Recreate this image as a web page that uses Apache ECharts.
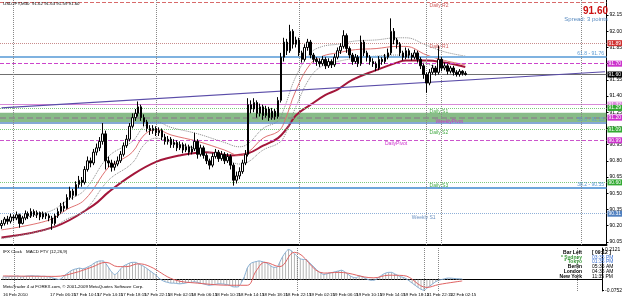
<!DOCTYPE html>
<html>
<head>
<meta charset="utf-8">
<script src="https://cdn.jsdelivr.net/npm/echarts@6.0.0/dist/echarts.min.js"></script>
<style>
html, body { margin: 0; padding: 0; background: #fff; }
#chart { width: 625px; height: 299px; }
</style>
</head>
<body>
<div id="chart"></div>
<script>
// USDJPY M30 bars, rows are [open, close, low, high]
var candles = [
[90.20,90.22,90.17,90.25],[90.22,90.26,90.20,90.28],[90.26,90.24,90.21,90.29],[90.24,90.28,90.22,90.31],
[90.28,90.27,90.24,90.30],[90.27,90.30,90.25,90.33],[90.30,90.22,90.18,90.31],[90.22,90.27,90.21,90.29],
[90.27,90.31,90.25,90.34],[90.31,90.29,90.26,90.33],[90.29,90.33,90.27,90.36],[90.33,90.30,90.28,90.35],
[90.30,90.32,90.27,90.34],[90.32,90.28,90.25,90.33],[90.28,90.31,90.26,90.33],[90.31,90.29,90.26,90.32],
[90.29,90.27,90.24,90.31],[90.27,90.22,90.16,90.29],[90.22,90.29,90.20,90.31],[90.29,90.33,90.27,90.36],
[90.33,90.38,90.31,90.41],[90.38,90.36,90.33,90.42],[90.36,90.46,90.35,90.49],[90.46,90.52,90.44,90.56],
[90.52,90.48,90.44,90.54],[90.48,90.58,90.47,90.61],[90.58,90.62,90.55,90.66],[90.62,90.60,90.56,90.65],
[90.60,90.72,90.58,90.75],[90.72,90.80,90.70,90.84],[90.80,90.78,90.74,90.83],[90.78,90.88,90.76,90.91],
[90.88,90.92,90.85,90.96],[90.92,90.98,90.89,91.02],[90.98,91.05,90.95,91.15],[91.05,90.80,90.72,91.08],
[90.80,90.78,90.74,90.84],[90.78,90.74,90.70,90.81],[90.74,90.77,90.71,90.80],[90.77,90.80,90.75,90.84],
[90.80,90.86,90.78,90.89],[90.86,90.94,90.84,90.97],[90.94,91.00,90.92,91.04],[91.00,91.12,90.98,91.15],
[91.12,91.20,91.10,91.24],[91.20,91.24,91.17,91.28],[91.24,91.30,91.21,91.35],[91.30,91.20,91.17,91.32],
[91.20,91.16,91.12,91.23],[91.16,91.10,91.07,91.18],[91.10,91.08,91.04,91.13],[91.08,91.10,91.05,91.13],
[91.10,91.06,91.03,91.12],[91.06,91.08,91.03,91.11],[91.08,91.02,90.99,91.10],[91.02,90.98,90.95,91.05],
[90.98,91.00,90.95,91.03],[91.00,90.95,90.92,91.02],[90.95,90.97,90.92,91.00],[90.97,90.92,90.89,90.99],
[90.92,90.95,90.90,90.98],[90.95,90.90,90.87,90.97],[90.90,90.93,90.88,90.96],[90.93,90.88,90.85,90.95],
[90.88,90.91,90.86,90.94],[90.91,90.98,90.89,91.06],[90.98,90.86,90.82,91.00],[90.86,90.92,90.84,90.95],
[90.92,90.85,90.82,90.94],[90.85,90.80,90.77,90.87],[90.80,90.76,90.72,90.82],[90.76,90.84,90.74,90.87],
[90.84,90.88,90.82,90.91],[90.88,90.82,90.79,90.90],[90.82,90.86,90.80,90.89],[90.86,90.80,90.77,90.88],
[90.80,90.84,90.78,90.87],[90.84,90.76,90.72,90.86],[90.76,90.62,90.57,90.78],[90.62,90.66,90.59,90.70],
[90.66,90.70,90.63,90.74],[90.70,90.78,90.68,90.81],[90.78,90.86,90.76,90.90],[90.86,91.32,90.84,91.38],
[91.32,91.28,91.24,91.36],[91.28,91.34,91.25,91.38],[91.34,91.24,91.20,91.36],[91.24,91.30,91.21,91.33],
[91.30,91.22,91.18,91.32],[91.22,91.28,91.20,91.31],[91.28,91.20,91.17,91.30],[91.20,91.26,91.18,91.29],
[91.26,91.21,91.18,91.28],[91.21,91.36,91.19,91.39],[91.36,91.76,91.34,91.80],[91.76,91.90,91.72,91.94],
[91.90,91.82,91.78,91.93],[91.82,92.00,91.80,92.06],[92.00,91.88,91.84,92.02],[91.88,91.92,91.85,91.95],
[91.92,91.80,91.77,91.94],[91.80,91.74,91.71,91.82],[91.74,91.85,91.72,91.88],[91.85,91.90,91.82,91.93],
[91.90,91.78,91.75,91.92],[91.78,91.74,91.71,91.80],[91.74,91.72,91.68,91.76],[91.72,91.70,91.67,91.75],
[91.70,91.74,91.68,91.77],[91.74,91.68,91.65,91.76],[91.68,91.72,91.66,91.75],[91.72,91.69,91.66,91.74],
[91.69,91.76,91.67,91.79],[91.76,91.82,91.74,91.85],[91.82,91.86,91.79,91.89],[91.86,91.96,91.84,92.01],
[91.96,91.84,91.80,91.98],[91.84,91.78,91.75,91.86],[91.78,91.72,91.69,91.80],[91.72,91.76,91.70,91.79],
[91.76,91.70,91.67,91.78],[91.70,91.90,91.68,91.96],[91.90,91.80,91.77,91.92],[91.80,91.76,91.72,91.82],
[91.76,91.72,91.69,91.78],[91.72,91.70,91.67,91.75],[91.70,91.66,91.63,91.72],[91.66,91.74,91.64,91.77],
[91.74,91.72,91.69,91.76],[91.72,91.76,91.70,91.79],[91.76,91.80,91.74,91.84],[91.80,92.00,91.78,92.12],
[92.00,91.92,91.88,92.03],[91.92,91.88,91.84,91.94],[91.88,91.80,91.77,91.90],[91.80,91.76,91.73,91.82],
[91.76,91.82,91.74,91.85],[91.82,91.78,91.75,91.84],[91.78,91.76,91.73,91.80],[91.76,91.80,91.74,91.83],
[91.80,91.74,91.71,91.82],[91.74,91.68,91.65,91.76],[91.68,91.60,91.56,91.70],[91.60,91.52,91.43,91.62],
[91.52,91.62,91.50,91.65],[91.62,91.66,91.60,91.69],[91.66,91.62,91.59,91.68],[91.62,91.74,91.60,91.87],
[91.74,91.66,91.63,91.76],[91.66,91.68,91.64,91.71],[91.68,91.63,91.60,91.70],[91.63,91.66,91.61,91.68],
[91.66,91.62,91.59,91.68],[91.62,91.60,91.58,91.64],[91.60,91.63,91.58,91.65],[91.63,91.61,91.59,91.64],
[91.61,91.60,91.59,91.63]
];

// moving averages as [bar, price]
var slowMa = [[0,90.09],[18,90.19],[31,90.39],[36,90.51],[44,90.67],[52,90.79],[60,90.85],[69,90.88],[77,90.85],
  [83,90.87],[88,90.94],[93,91.01],[96,91.10],[99,91.22],[104,91.32],[109,91.41],[113,91.46],[118,91.55],
  [126,91.64],[133,91.71],[136,91.73],[143,91.73],[149,91.71],[156,91.67]];
var fastMa = [[0,90.16],[16,90.25],[22,90.35],[28,90.44],[36,90.74],[39,90.79],[44,90.88],[48,91.04],[52,91.09],
  [57,91.04],[66,90.98],[75,90.90],[80,90.85],[83,90.88],[88,91.01],[93,91.07],[95,91.15],[99,91.45],[104,91.70],
  [108,91.77],[113,91.80],[119,91.83],[126,91.84],[133,91.86],[136,91.86],[143,91.78],[149,91.73],[156,91.69]];
var envUp = [[0,90.24],[16,90.33],[22,90.43],[28,90.53],[36,90.84],[44,90.98],[48,91.12],[52,91.16],[57,91.11],
  [66,91.05],[75,90.97],[80,90.93],[83,90.96],[88,91.10],[93,91.17],[95,91.28],[99,91.58],[104,91.80],[108,91.86],
  [113,91.88],[119,91.91],[126,91.92],[133,91.94],[136,91.94],[143,91.87],[149,91.81],[156,91.77]];
var envDn = [[0,90.08],[16,90.17],[22,90.26],[28,90.34],[36,90.62],[44,90.78],[48,90.95],[52,91.01],[57,90.97],
  [66,90.91],[75,90.83],[80,90.77],[83,90.79],[88,90.90],[93,90.96],[95,91.02],[99,91.30],[104,91.58],[108,91.68],
  [113,91.72],[119,91.75],[126,91.77],[133,91.78],[136,91.78],[143,91.70],[149,91.65],[156,91.61]];

// MACD FTV (12,26,9)
var macdMain = [0.02,0.018,0.02,0.022,0.02,0.025,0.018,0.02,0.024,0.025,0.026,0.024,0.025,0.022,0.023,0.02,0.018,0.01,0.005,
  0.0,0.01, 0.03,0.045,0.06,0.07, 0.075,0.08,0.075,0.08,0.09, 0.10,0.115,0.125,0.13,0.13, 0.11,0.08,0.05,0.035,
  0.05,0.075,0.095, 0.105,0.115,0.12,0.12,0.11, 0.10,0.09,0.075,0.06,0.045,0.03,0.01,
  -0.005,-0.015,-0.02,-0.025,-0.025,-0.028,-0.03,-0.028,-0.025,-0.02,-0.02,-0.015,-0.02,
  -0.025,-0.03,-0.035,-0.04,-0.038,-0.035,-0.03,-0.03,-0.032,-0.035,-0.04,-0.05,-0.052,-0.05,
  -0.02,0.02,0.08,0.11, 0.12,0.125,0.13,0.125,0.12,0.11, 0.095,0.085,0.085,0.12, 0.16,0.19,0.21,
  0.2,0.18,0.16,0.145,0.14,0.14, 0.12,0.1,0.08,0.06,0.045,0.035, 0.04,0.045,0.05,0.055,0.06,0.065,0.055,0.04,
  0.025,0.015,0.012,0.025,0.02,0.01, 0.0,-0.005,-0.005,0.005,0.02, 0.035,0.045,0.05,0.05,0.04,0.03,
  0.02,0.015,0.005,-0.01,-0.025,-0.04,-0.055,-0.068,-0.075, -0.06,-0.045,-0.03,-0.015,-0.005,
  0.0,0.005,0.01,0.01,0.008,0.006,0.005,0.004];
var macdSignal = [[0,0.025],[18,0.022],[24,0.045],[30,0.085],[35,0.12],[39,0.09],[42,0.09],[46,0.11],[50,0.09],
  [58,0.0],[66,-0.025],[78,-0.04],[83,-0.04],[86,0.06],[89,0.12],[94,0.09],[99,0.19],[109,0.045],[114,0.05],
  [126,0.012],[131,0.03],[136,0.028],[144,-0.055],[148,-0.035],[156,-0.01]];

var timeLabels = ['16 Feb 2010','17 Feb 02:15','17 Feb 06:15','17 Feb 10:15','17 Feb 14:15','17 Feb 18:15',
  '17 Feb 22:15','18 Feb 02:15','18 Feb 06:15','18 Feb 10:15','18 Feb 14:15','18 Feb 18:15','18 Feb 22:15',
  '19 Feb 02:15','19 Feb 06:15','19 Feb 10:15','19 Feb 14:15','19 Feb 18:15','21 Feb 22:15','22 Feb 02:15'];
var priceTicks = [90.05,90.20,90.35,90.50,90.65,90.80,90.95,91.10,91.25,91.40,91.55,91.70,91.85,92.00,92.15];
var macdTicks = [0.2121,-0.0752];

// pivot / fib / trade levels
var levelPrices = [92.27, 91.89, 91.76, 91.70, 91.60, 91.32, 91.29, 91.20, 91.15, 91.09, 90.99, 90.60, 90.55, 90.31];
var levelTexts = ['Daily R2','Daily R1','61.8 - 91.76','','','','Daily S1','WeeklyPivot','50.0 - 91.15','Daily S2',
  'DailyPivot','Daily S3','38.2 - 90.55','Weekly S1'];
var trendLine = [[0, 91.29], [203, 91.625]];
var daySeparators = [3.5, 51.5, 99.5, 143, 147.5, 194.5];
var bandRange = [91.16, 91.245];

var clockNames = ['Bar Left', '* Sydney', '* Tokyo', 'Berlin', 'London', 'New York'];
var clockTimes = ['[ 09:12 ]', '03:35 PM', '01:35 PM', '05:35 AM', '04:35 AM', '11:35 PM'];

// styles for each level, same order as levelPrices
var levelStyles = [
  {c: '#d86a6a', t: 'dashed', w: 1, tag: null, lx: 144, pos: 'below'},
  {c: '#c88c8c', t: 'dotted', w: 1, tag: '#d03030', lx: 144, pos: 'below'},
  {c: '#7fb2e0', t: 'solid', w: 2, tag: null, lx: 203, pos: 'fib'},
  {c: '#cc44cc', t: 'dashed', w: 1, tag: '#cc33cc', lx: 0, pos: ''},
  {c: '#707070', t: 'solid', w: 1, tag: '#000000', lx: 0, pos: ''},
  {c: '#d88ad8', t: 'solid', w: 1, tag: '#dd88dd', lx: 0, pos: ''},
  {c: '#7cc87c', t: 'dotted', w: 1, tag: '#33aa33', lx: 144, pos: 'below'},
  {c: '#8a8a8a', t: 'dashed', w: 1.5, tag: '#cc33cc', lx: 146, pos: 'below'},
  {c: '#5b8cc8', t: 'solid', w: 1.5, tag: null, lx: 203, pos: 'fib'},
  {c: '#7cc87c', t: 'dotted', w: 1, tag: '#33aa33', lx: 144, pos: 'below'},
  {c: '#cc55cc', t: 'dashed', w: 1, tag: '#cc33cc', lx: 129, pos: 'below'},
  {c: '#7cc87c', t: 'dotted', w: 1, tag: '#33aa33', lx: 144, pos: 'below'},
  {c: '#6fa6dc', t: 'solid', w: 2, tag: null, lx: 203, pos: 'fib'},
  {c: '#8fb0d8', t: 'dotted', w: 1, tag: '#5080c0', lx: 138, pos: 'below'}
];
var textColors = ['#d06060','#d06060','#5b9bd5','','','','#44aa44','#cc33cc','#5b9bd5','#44aa44','#cc33cc','#44aa44','#5b9bd5','#6a90c0'];

var BARS = 204;
var cats = [];
for (var i = 0; i < BARS; i++) cats.push(String(i));

var FONT = 'Liberation Sans';

var markLines = [];
levelPrices.forEach(function (p, k) {
    var s = levelStyles[k];
    markLines.push({
        yAxis: p,
        lineStyle: {color: s.c, type: s.t, width: s.w},
        label: s.tag ? {
            show: true, position: 'end', distance: 1, formatter: p.toFixed(2),
            backgroundColor: s.tag, color: '#fff', fontSize: 5, fontFamily: FONT, padding: [1, 1, 0, 1]
        } : {show: false}
    });
});
daySeparators.forEach(function (d) {
    markLines.push({xAxis: d, lineStyle: {color: '#888', type: 'dotted', width: 1}, label: {show: false}});
});
markLines.push([
    {coord: trendLine[0], lineStyle: {color: '#5a4ca8', type: 'solid', width: 1.2}, label: {show: false}},
    {coord: trendLine[1]}
]);

var chart = echarts.init(document.getElementById('chart'));
var option = {
    animation: false,
    backgroundColor: '#fff',
    grid: [
        {left: 0, top: 0, width: 611, height: 245},
        {left: 0, top: 248, width: 611, height: 43}
    ],
    xAxis: [
        {
            type: 'category', gridIndex: 0, data: cats, boundaryGap: true,
            axisLine: {show: true, lineStyle: {color: '#000', width: 2}},
            axisTick: {show: false}, axisLabel: {show: false}, splitLine: {show: false}
        },
        {
            type: 'category', gridIndex: 1, data: cats, boundaryGap: true,
            axisLine: {show: true, lineStyle: {color: '#000', width: 1}},
            axisTick: {show: false},
            axisLabel: {
                show: true, interval: 7, showMinLabel: true, hideOverlap: false,
                fontSize: 4.4, fontFamily: FONT, color: '#000', margin: 2, align: 'left',
                formatter: function (v, idx) { return timeLabels[idx / 8] || ''; }
            },
            splitLine: {show: false}
        }
    ],
    yAxis: [
        {
            type: 'value', gridIndex: 0, position: 'right', min: 90.02, max: 92.29, scale: true,
            axisLine: {show: true, lineStyle: {color: '#000', width: 1}},
            axisTick: {show: true, length: 2, lineStyle: {color: '#000'}, customValues: priceTicks},
            axisLabel: {
                show: true, fontSize: 5, fontFamily: FONT, color: '#000', margin: 3,
                customValues: priceTicks, formatter: function (v) { return v.toFixed(2); }
            },
            splitLine: {show: false}
        },
        {
            type: 'value', gridIndex: 1, position: 'right', min: -0.08, max: 0.22,
            axisLine: {show: true, lineStyle: {color: '#000', width: 1}},
            axisTick: {show: true, length: 2, lineStyle: {color: '#000'}, customValues: macdTicks},
            axisLabel: {
                show: true, fontSize: 5, fontFamily: FONT, color: '#000', margin: 3,
                customValues: macdTicks, formatter: function (v) { return v.toFixed(4); }
            },
            splitLine: {show: false}
        }
    ],
    series: [
        {
            type: 'candlestick', name: 'USDJPY', xAxisIndex: 0, yAxisIndex: 0,
            data: candles, barWidth: 2,
            itemStyle: {color: '#ffffff', color0: '#000000', borderColor: '#000000', borderColor0: '#000000', borderWidth: 1},
            markLine: {silent: true, symbol: ['none', 'none'], precision: 3, data: markLines},
            markArea: {
                silent: true,
                itemStyle: {color: 'rgba(96,166,96,0.75)'},
                data: [[{yAxis: bandRange[0]}, {yAxis: bandRange[1]}]]
            },
            z: 5
        },
        {
            type: 'line', name: 'MA slow', xAxisIndex: 0, yAxisIndex: 0, data: slowMa,
            smooth: 0.4, symbol: 'none', lineStyle: {color: '#a3163a', width: 2}, z: 4
        },
        {
            type: 'line', name: 'MA fast', xAxisIndex: 0, yAxisIndex: 0, data: fastMa,
            smooth: 0.4, symbol: 'none', lineStyle: {color: '#e07272', width: 1}, z: 4
        },
        {
            type: 'line', name: 'Env up', xAxisIndex: 0, yAxisIndex: 0, data: envUp,
            smooth: 0.4, symbol: 'none', lineStyle: {color: '#8a8a8a', width: 1, type: 'dotted'}, z: 4
        },
        {
            type: 'line', name: 'Env dn', xAxisIndex: 0, yAxisIndex: 0, data: envDn,
            smooth: 0.4, symbol: 'none', lineStyle: {color: '#8a8a8a', width: 1, type: 'dotted'}, z: 4
        },
        {
            type: 'bar', name: 'MACD hist', xAxisIndex: 1, yAxisIndex: 1, data: macdMain,
            barWidth: 1, itemStyle: {color: '#b4b4b4'},
            markLine: {
                silent: true, symbol: ['none', 'none'], label: {show: false},
                lineStyle: {color: '#888', type: 'dotted', width: 1},
                data: daySeparators.map(function (d) { return {xAxis: d}; })
            }
        },
        {
            type: 'line', name: 'MACD', xAxisIndex: 1, yAxisIndex: 1, data: macdMain,
            smooth: 0.3, symbol: 'none', lineStyle: {color: '#86aed2', width: 1}
        },
        {
            type: 'line', name: 'Signal', xAxisIndex: 1, yAxisIndex: 1, data: macdSignal,
            smooth: 0.4, symbol: 'none', lineStyle: {color: '#e06262', width: 1}
        }
    ]
};
chart.setOption(option);

// texts: chart caption, level names, clock block
var g = [];
function txt(x, y, s, fill, size, align, valign, weight) {
    g.push({
        type: 'text', z: 100, silent: true,
        style: {x: x, y: y, text: s, fill: fill, fontSize: size, fontFamily: FONT,
                fontWeight: weight || 'normal', align: align || 'left', verticalAlign: valign || 'top'}
    });
}
txt(3, 2, 'USDJPY,M30  91.62 91.63 91.59 91.60', '#000', 4.4);
txt(608, 6, '91.60', '#cc1111', 10, 'right', 'top', 'bold');
txt(608, 16, 'Spread: 3 points', '#5b8cc0', 6, 'right');
levelTexts.forEach(function (t, k) {
    if (!t) return;
    var s = levelStyles[k];
    var pt = chart.convertToPixel({xAxisIndex: 0, yAxisIndex: 0}, [s.lx, levelPrices[k]]);
    if (s.pos === 'fib') txt(pt[0] - 1, pt[1] - 1, t, textColors[k], 5, 'right', 'bottom');
    else txt(pt[0], pt[1] + 1, t, textColors[k], 5, 'left', 'top');
});
txt(3, 250, 'IFX Clock', '#000', 4.4);
txt(26, 250, 'MACD FTV (12,26,9)', '#000', 4.4);
txt(3, 285, 'MetaTrader 4 at FOREX.com, \u00a9 2001-2009 MetaQuotes Software Corp.', '#000', 4.4);
var nameColors = ['#000', '#3a9a3a', '#3a9a3a', '#000', '#000', '#000'];
var timeColors = ['#000', '#3a6fd0', '#3a6fd0', '#000', '#000', '#000'];
clockNames.forEach(function (n, k) {
    var y = 250 + k * 4.8;
    txt(582, y, n, nameColors[k], 5, 'right', 'top', 'bold');
    txt(592, y, clockTimes[k], timeColors[k], 5, 'left', 'top', k === 0 ? 'bold' : 'normal');
});
chart.setOption({graphic: g});
</script>
</body>
</html>
